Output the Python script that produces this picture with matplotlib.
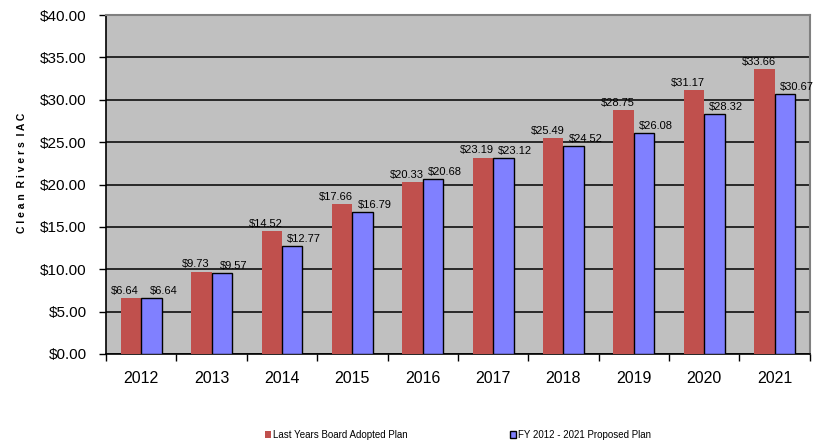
import matplotlib.pyplot as plt
import numpy as np

years = ['2012', '2013', '2014', '2015', '2016', '2017', '2018', '2019', '2020', '2021']
last_year_plan = [6.64, 9.73, 14.52, 17.66, 20.33, 23.19, 25.49, 28.75, 31.17, 33.66]
proposed_plan = [6.64, 9.57, 12.77, 16.79, 20.68, 23.12, 24.52, 26.08, 28.32, 30.67]
series_names = ['Last Years Board Adopted Plan', 'FY 2012 - 2021 Proposed Plan']

plt.rcParams['font.family'] = ['Liberation Sans', 'DejaVu Sans']

fig = plt.figure(figsize=(8.18, 4.45), dpi=100)
ax = fig.add_axes([0.1296, 0.2045, 0.8604, 0.7615])
ax.set_facecolor('#C0C0C0')

x = np.arange(len(years))
w = 0.29
b1 = ax.bar(x - w / 2, last_year_plan, w, color='#C0504D', edgecolor='none', zorder=3,
            label=series_names[0])
b2 = ax.bar(x + w / 2, proposed_plan, w, color='#8080FF', edgecolor='black', linewidth=1.0,
            zorder=3, label=series_names[1])

# labels pushed apart a little, like the excel ones
for bars, vals, dx in [(b1, last_year_plan, -4.3), (b2, proposed_plan, 8.6)]:
    for r, v in zip(bars, vals):
        ax.annotate('$%.2f' % v, (r.get_x() + r.get_width() / 2, v), xytext=(dx, 1.5),
                    textcoords='offset points', ha='center', va='bottom', fontsize=8)

ax.set_xlim(-0.5, len(years) - 0.5)
ax.set_ylim(0, 40)
ticks = np.arange(0, 40.1, 5)
ax.set_yticks(ticks)
ax.set_yticklabels(['$%.2f' % t for t in ticks], fontsize=11)
ax.set_xticks(x)
ax.set_xticklabels(years, fontsize=11.5)
ax.set_xticks(np.arange(-0.5, len(years)), minor=True)
ax.tick_params(axis='x', which='major', length=0, pad=12)
ax.tick_params(axis='x', which='minor', length=5, width=1, direction='out')
ax.tick_params(axis='y', length=5, width=1, direction='out', pad=9)
ax.grid(axis='y', color='black', linewidth=1.1, zorder=1)

for s in ['top', 'right']:
    ax.spines[s].set_color('#808080')
    ax.spines[s].set_linewidth(1.5)
for s in ['left', 'bottom']:
    ax.spines[s].set_color('black')
    ax.spines[s].set_linewidth(1.2)

fig.text(0.027, 0.612, 'C l e a n  R i v e r s  I A C', rotation=90, ha='center', va='center',
         fontsize=7.5, fontweight='bold')

fig.legend(handles=[b1, b2], loc='center', bbox_to_anchor=(0.5595, 0.0225), ncol=2,
           frameon=False, fontsize=7, handlelength=0.6, handleheight=0.6, handletextpad=0.2,
           columnspacing=10.55, borderpad=0)

fig.savefig('out.png', dpi=100)
